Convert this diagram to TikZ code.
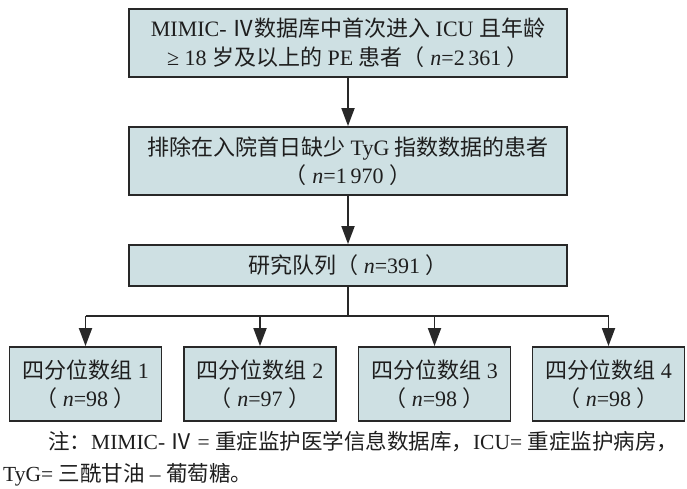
\documentclass[tikz,border=0pt]{standalone}
\usepackage{fontspec}
\setmainfont{Liberation Serif}
\newfontfamily\cjk{Noto Sans CJK SC}
\newcommand\zh[1]{{\cjk #1}}
\usetikzlibrary{arrows.meta}
\definecolor{boxfill}{RGB}{206,224,227}
\definecolor{linec}{RGB}{40,40,40}
\definecolor{txt}{RGB}{30,30,30}
\begin{document}
\begin{tikzpicture}[x=1pt,y=1pt,
  box/.style={draw=linec, line width=1.8pt, fill=boxfill, align=center, inner sep=0pt,
    text=txt, font=\fontsize{22pt}{28.5pt}\selectfont},
  bigbox/.style={box, minimum width=438pt},
  qbox/.style={box, minimum width=152pt, minimum height=74pt},
  conn/.style={draw=linec, line width=1.8pt},
  arr/.style={conn, -{Triangle[length=18pt,width=13pt]}},
  note/.style={anchor=west, inner sep=0pt, text=txt, font=\fontsize{21.5pt}{28pt}\selectfont}]
\useasboundingbox (0,0) rectangle (687,-489);
\node[bigbox, minimum height=68pt] (b1) at (348,-43)
  {MIMIC- \zh{Ⅳ数据库中首次进入} ICU \zh{且年龄}\\ ≥ 18 \zh{岁及以上的} PE \zh{患者（}\ \textit{n}=2\,361\ \zh{）}};
\node[bigbox, minimum height=68pt] (b2) at (348,-161)
  {\zh{排除在入院首日缺少} TyG \zh{指数数据的患者}\\ \zh{（}\ \textit{n}=1\,970\ \zh{）}};
\node[bigbox, minimum height=41pt] (b3) at (348,-265.5)
  {\zh{研究队列（}\ \textit{n}=391\ \zh{）}};
\node[qbox] (q1) at (85.5,-384) {\zh{四分位数组} 1\\ \zh{（}\ \textit{n}=98\ \zh{）}};
\node[qbox] (q2) at (260,-384) {\zh{四分位数组} 2\\ \zh{（}\ \textit{n}=97\ \zh{）}};
\node[qbox] (q3) at (434.5,-384) {\zh{四分位数组} 3\\ \zh{（}\ \textit{n}=98\ \zh{）}};
\node[qbox] (q4) at (608.5,-384) {\zh{四分位数组} 4\\ \zh{（}\ \textit{n}=98\ \zh{）}};
\coordinate (bus) at (348,-316);
\draw[arr] (b1) -- (b2);
\draw[arr] (b2) -- (b3);
\draw[conn] (b3) -- (bus);
\draw[conn] (q1.north |- bus) -- (q4.north |- bus);
\foreach \q in {q1,q2,q3,q4} \draw[arr] (\q.north |- bus) -- (\q);
\node[note] (n1) at (48,-442) {\zh{注：}MIMIC- \zh{Ⅳ} = \zh{重症监护医学信息数据库，}ICU= \zh{重症监护病房，}};
\node[note] (n2) at (3,-475) {TyG= \zh{三酰甘油} – \zh{葡萄糖。}};
\end{tikzpicture}
\end{document}
